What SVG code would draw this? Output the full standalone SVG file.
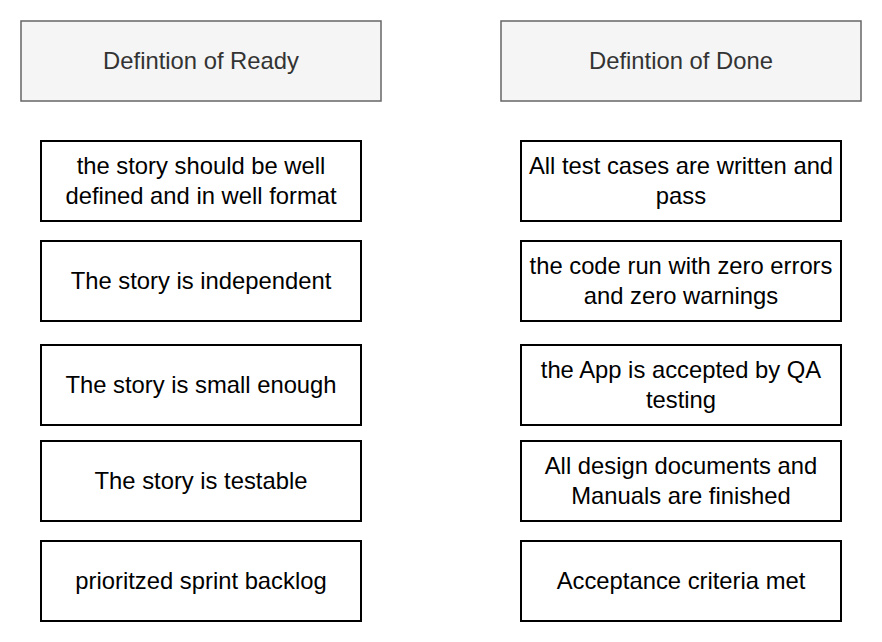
<svg xmlns="http://www.w3.org/2000/svg" width="882" height="642" viewBox="0 0 882 642">
<style>
.hdr{fill:#f5f5f5;stroke:#666666;stroke-width:1.5}
.box{fill:#ffffff;stroke:#000000;stroke-width:2}
text{font-family:"Liberation Sans",Arial,sans-serif;font-size:23.8px;text-anchor:middle}
.ht{fill:#333333}
.bt{fill:#000000}
</style>
<rect width="882" height="642" fill="#ffffff"/>
<g id="connectors"></g>
<g id="hdr-ready"><rect class="hdr" x="21" y="21" width="360" height="80"/><text class="ht" x="201" y="69">Defintion of Ready</text></g>
<g id="hdr-done"><rect class="hdr" x="501" y="21" width="360" height="80"/><text class="ht" x="681" y="69">Defintion of Done</text></g>
<g id="r1"><rect class="box" x="41" y="141" width="320" height="80"/><text class="bt" x="201" y="174">the story should be well</text><text class="bt" x="201" y="204">defined and in well format</text></g>
<g id="r2"><rect class="box" x="41" y="241" width="320" height="80"/><text class="bt" x="201" y="289">The story is independent</text></g>
<g id="r3"><rect class="box" x="41" y="345" width="320" height="80"/><text class="bt" x="201" y="393">The story is small enough</text></g>
<g id="r4"><rect class="box" x="41" y="441" width="320" height="80"/><text class="bt" x="201" y="489">The story is testable</text></g>
<g id="r5"><rect class="box" x="41" y="541" width="320" height="80"/><text class="bt" x="201" y="589">prioritzed sprint backlog</text></g>
<g id="d1"><rect class="box" x="521" y="141" width="320" height="80"/><text class="bt" x="681" y="174">All test cases are written and</text><text class="bt" x="681" y="204">pass</text></g>
<g id="d2"><rect class="box" x="521" y="241" width="320" height="80"/><text class="bt" x="681" y="274">the code run with zero errors</text><text class="bt" x="681" y="304">and zero warnings</text></g>
<g id="d3"><rect class="box" x="521" y="345" width="320" height="80"/><text class="bt" x="681" y="378">the App is accepted by QA</text><text class="bt" x="681" y="408">testing</text></g>
<g id="d4"><rect class="box" x="521" y="441" width="320" height="80"/><text class="bt" x="681" y="474">All design documents and</text><text class="bt" x="681" y="504">Manuals are finished</text></g>
<g id="d5"><rect class="box" x="521" y="541" width="320" height="80"/><text class="bt" x="681" y="589">Acceptance criteria met</text></g>
</svg>
